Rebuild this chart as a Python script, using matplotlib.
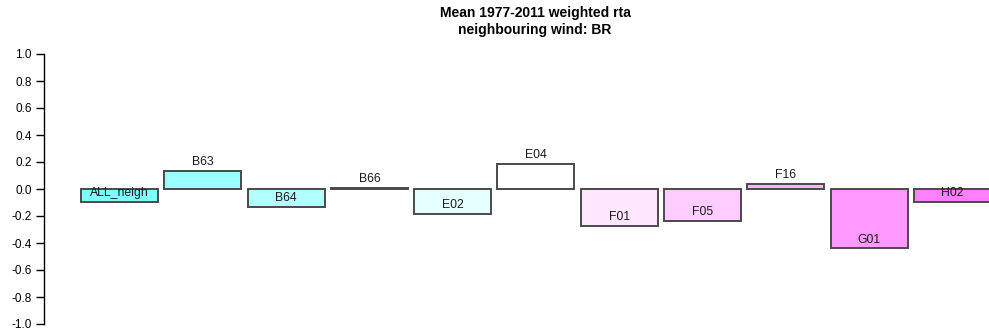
import matplotlib
matplotlib.use("Agg")
import matplotlib.pyplot as plt
from matplotlib.transforms import offset_copy

plt.rcParams['font.family'] = ['Liberation Sans', 'DejaVu Sans']

categories = ["ALL_neigh", "B63", "B64", "B66", "E02", "E04", "F01", "F05", "F16", "G01", "H02"]
values = [-0.095, 0.133, -0.133, 0.007, -0.185, 0.185, -0.272, -0.237, 0.04, -0.44, -0.097]
colors = ["#80FFFF", "#99FFFF", "#B3FFFF", "#CCFFFF", "#E6FFFF", "#FFFFFF",
          "#FFE6FF", "#FFCCFF", "#FFB3FF", "#FF99FF", "#FF80FF"]
yticks = [-1.0, -0.8, -0.6, -0.4, -0.2, 0.0, 0.2, 0.4, 0.6, 0.8, 1.0]

W, H = 989, 335
fig = plt.figure(figsize=(W / 100, H / 100), dpi=100)
left_px, right_px, top_px, bot_px = 44, 989, 54, 324
ax = fig.add_axes([left_px / W, 1 - bot_px / H, (right_px - left_px) / W, (bot_px - top_px) / H])

x = list(range(len(categories)))
ax.bar(x, values, width=0.925, color=colors, edgecolor="#4a4a4a", linewidth=1.4, clip_on=True)
ax.set_xlim(-0.906, 10.44)
ax.set_ylim(-1.0, 1.0)

for xi, v, lab in zip(x, values, categories):
    tr = offset_copy(ax.transData, fig=fig, x=0, y=4.2, units='points')
    ax.text(xi, v, lab, transform=tr, ha='center', va='baseline', fontsize=8.8, color="#1a1a1a")

for s in ["top", "right", "bottom"]:
    ax.spines[s].set_visible(False)
ax.spines["left"].set_linewidth(1.0)
ax.set_xticks([])
ax.set_yticks(yticks)
ax.set_yticklabels([f"{t:.1f}" for t in yticks], fontsize=8.5)
ax.tick_params(axis='y', length=6, width=1.0, pad=3)

fig.text(535 / W, 1 - 13 / H, "Mean 1977-2011 weighted rta", ha='center', va='center',
         fontsize=10, fontweight='bold')
fig.text(535 / W, 1 - 30 / H, "neighbouring wind: BR", ha='center', va='center',
         fontsize=10, fontweight='bold')

fig.savefig("out.png", dpi=100)
